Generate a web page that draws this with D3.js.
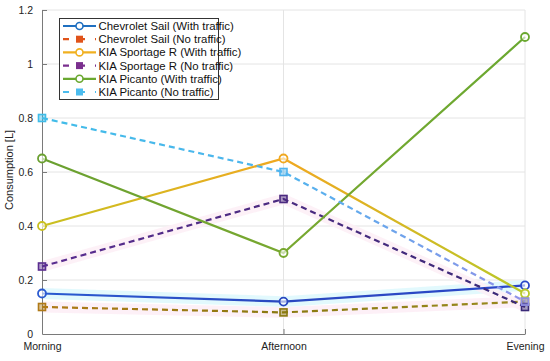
<!DOCTYPE html>
<html><head><meta charset="utf-8">
<script src="https://cdn.jsdelivr.net/npm/d3@7"></script>
<style>body{margin:0;background:#fff;}svg{display:block;font-family:"Liberation Sans",Arial,sans-serif;}</style>
</head><body><svg id="c" width="550" height="361"></svg>
<script>
const categories = ["Morning", "Afternoon", "Evening"];
const yTicks = [0, 0.2, 0.4, 0.6, 0.8, 1, 1.2];
const yTickLabels = ["0", "0.2", "0.4", "0.6", "0.8", "1", "1.2"];
const seriesNames = ["Chevrolet Sail (With traffic)", "Chevrolet Sail (No traffic)", "KIA Sportage R (With traffic)", "KIA Sportage R (No traffic)", "KIA Picanto (With traffic)", "KIA Picanto (No traffic)"];
const sailWith = [0.15, 0.12, 0.18];
const sailNo = [0.10, 0.08, 0.12];
const sportageWith = [0.40, 0.65, 0.15];
const sportageNo = [0.25, 0.50, 0.10];
const picantoWith = [0.65, 0.30, 1.10];
const picantoNo = [0.80, 0.60, 0.12];

const legendColors = ["#1f6fc0", "#e0531a", "#f0b020", "#7a2f8e", "#6aa830", "#4cbcee"];
const lineStops = [
  ["#2a5ad0", "#2a48c0", "#2a48c8"],
  ["#b07a18", "#8a7a10", "#9a8a20"],
  ["#c8c020", "#f0a820", "#b8c828"],
  ["#5a2d90", "#4a2a80", "#3a2a78"],
  ["#6aa030", "#78a830", "#6aa830"],
  ["#40bce8", "#50b4ee", "#9090e8"]
];
const dashed = [false, true, false, true, false, true];
const markers = ["circle", "square", "circle", "square", "circle", "square"];
const values = [sailWith, sailNo, sportageWith, sportageNo, picantoWith, picantoNo];

const svg = d3.select("#c");
const x = d3.scalePoint().domain(categories).range([42, 525]);
const y = d3.scaleLinear().domain([0, 1.2]).range([334, 10]);

// grid
const grid = svg.append("g");
grid.selectAll("line.h").data(yTicks.slice(1)).join("line")
  .attr("x1", 42).attr("x2", 525).attr("y1", d => y(d)).attr("y2", d => y(d))
  .attr("stroke", "#e4e4e4").attr("stroke-width", 1);
grid.selectAll("line.v").data(categories.slice(1)).join("line")
  .attr("y1", 10).attr("y2", 334).attr("x1", d => x(d)).attr("x2", d => x(d))
  .attr("stroke", "#e4e4e4").attr("stroke-width", 1);

// faint bands
const bandDefs = [[0, "#dff8fd"], [1, "#fdeef6"], [3, "#fdf0f6"]];
bandDefs.forEach(([i, col]) => {
  const area = d3.area().x((d, k) => x(categories[k])).y0(d => y(d - 0.02)).y1(d => y(d + 0.02));
  svg.append("path").datum(values[i]).attr("d", area).attr("fill", col).attr("opacity", 0.9);
});

// axes
const yAxis = d3.axisLeft(y).tickValues(yTicks).tickFormat((d, i) => yTickLabels[i]).tickSizeInner(-5).tickSizeOuter(0).tickPadding(9);
const gy = svg.append("g").attr("transform", "translate(42,0)").call(yAxis);
const xAxis = d3.axisBottom(x).tickSizeInner(-5).tickSizeOuter(0).tickPadding(9);
const gx = svg.append("g").attr("transform", "translate(0,334)").call(xAxis);
[gy, gx].forEach(g => {
  g.select(".domain").attr("stroke", "#7a7a7a");
  g.selectAll(".tick line").attr("stroke", "#7a7a7a");
  g.selectAll("text").attr("fill", "#222").attr("font-size", 10.5).attr("font-family", "Liberation Sans, Arial, sans-serif");
});
gy.selectAll(".tick").filter(d => d === 0).select("line").remove();
gx.selectAll(".tick").filter(d => d === "Morning").select("line").remove();
svg.append("text").attr("transform", "translate(13,170) rotate(-90)").attr("text-anchor", "middle")
  .attr("font-size", 11).attr("fill", "#222").text("Consumption [L]");

// gradients
const defs = svg.append("defs");
lineStops.forEach((stops, i) => {
  const g = defs.append("linearGradient").attr("id", "g" + i).attr("gradientUnits", "userSpaceOnUse")
    .attr("x1", x(categories[0])).attr("x2", x(categories[2])).attr("y1", 0).attr("y2", 0);
  stops.forEach((c, k) => g.append("stop").attr("offset", k / 2).attr("stop-color", c));
});

const line = d3.line().x((d, k) => x(categories[k])).y(d => y(d));
values.forEach((vals, i) => {
  const g = svg.append("g");
  g.append("path").datum(vals).attr("d", line).attr("fill", "none")
    .attr("stroke", "url(#g" + i + ")").attr("stroke-width", 2.2)
    .attr("stroke-dasharray", dashed[i] ? "6,4" : null);
  vals.forEach((v, k) => {
    const col = lineStops[i][k];
    if (markers[i] === "circle") {
      g.append("circle").attr("cx", x(categories[k])).attr("cy", y(v)).attr("r", 4)
        .attr("fill", "#fff").attr("fill-opacity", 0.6).attr("stroke", col).attr("stroke-width", 1.8);
    } else {
      g.append("rect").attr("x", x(categories[k]) - 3.5).attr("y", y(v) - 3.5).attr("width", 7).attr("height", 7)
        .attr("fill", col).attr("fill-opacity", 0.45).attr("stroke", col).attr("stroke-width", 1.6);
    }
  });
});

// legend
const lg = svg.append("g");
lg.append("rect").attr("x", 59.5).attr("y", 18.5).attr("width", 159).attr("height", 81)
  .attr("fill", "#fff").attr("stroke", "#333").attr("stroke-width", 1);
seriesNames.forEach((name, i) => {
  const yy = 26 + i * 13.2;
  const col = legendColors[i];
  lg.append("line").attr("x1", 63).attr("x2", 96).attr("y1", yy).attr("y2", yy)
    .attr("stroke", col).attr("stroke-width", 2.2).attr("stroke-dasharray", dashed[i] ? "6,10" : null);
  if (markers[i] === "circle") {
    lg.append("circle").attr("cx", 79.5).attr("cy", yy).attr("r", 3.5).attr("fill", "#fff").attr("stroke", col).attr("stroke-width", 1.6);
  } else {
    lg.append("rect").attr("x", 76).attr("y", yy - 3.5).attr("width", 7).attr("height", 7).attr("fill", col);
  }
  lg.append("text").attr("x", 98.5).attr("y", yy + 4).attr("font-size", 11.4).attr("fill", "#111").text(name);
});
</script></body></html>
